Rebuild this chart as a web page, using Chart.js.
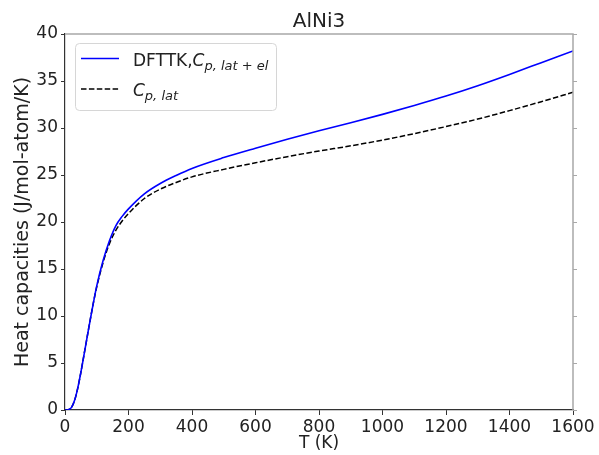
<!DOCTYPE html>
<html>
<head>
<meta charset="utf-8">
<script src="https://cdn.jsdelivr.net/npm/chart.js@4.4.0/dist/chart.umd.min.js"></script>
<style>
html,body{margin:0;padding:0;background:#fff;}
#wrap{width:599px;height:455px;}
</style>
</head>
<body>
<div id="wrap"><canvas id="cp"></canvas></div>
<script>
// temperature (K) and heat capacities (J/mol-atom/K)
var temps = [0,10,20,30,40,50,60,70,80,90,100,120,140,160,180,200,250,300,350,400,500,600,700,800,900,1000,1100,1200,1300,1400,1500,1600];
var cpLatEl = [0,0.03,0.25,1.0,2.3,4.0,5.9,7.8,9.7,11.5,13.2,15.9,18.0,19.6,20.6,21.4,23.0,24.1,24.95,25.7,26.85,27.85,28.8,29.7,30.55,31.45,32.4,33.4,34.5,35.7,36.95,38.2];
var cpLat = [0,0.03,0.25,1.0,2.3,4.0,5.9,7.8,9.7,11.5,13.1,15.7,17.7,19.1,20.1,20.9,22.5,23.5,24.2,24.8,25.6,26.3,26.95,27.55,28.1,28.72,29.4,30.15,30.95,31.85,32.8,33.8];

// legend text: prefix, math symbol, subscript
var legPrefix = ['DFTTK,', ''];
var legSymbol = ['C', 'C'];
var legSub = ['p, lat + el', 'p, lat'];

var FONT = 'DejaVu Sans';

function pts(ys) {
  return temps.map(function (t, i) { return {x: t, y: ys[i]}; });
}

// top/right spines in light grey, with small ticks on the right
var frame = {
  id: 'frame',
  afterDraw: function (chart) {
    var a = chart.chartArea, ctx = chart.ctx, y = chart.scales.y;
    ctx.save();
    ctx.strokeStyle = '#a8a8a8';
    ctx.lineWidth = 1.5;
    ctx.beginPath();
    ctx.moveTo(a.left, a.top);
    ctx.lineTo(a.right, a.top);
    ctx.lineTo(a.right, a.bottom);
    ctx.stroke();
    ctx.lineWidth = 1;
    y.ticks.forEach(function (t) {
      var py = Math.round(y.getPixelForValue(t.value)) + 0.5;
      ctx.beginPath();
      ctx.moveTo(a.right, py);
      ctx.lineTo(a.right + 4, py);
      ctx.stroke();
    });
    ctx.restore();
  }
};

// legend with subscripted math labels
var mathLegend = {
  id: 'mathLegend',
  afterDraw: function (chart) {
    var ctx = chart.ctx;
    var bx = 75, by = 43, bw = 201, bh = 67, r = 4;
    ctx.save();
    ctx.fillStyle = 'rgba(255,255,255,0.8)';
    ctx.strokeStyle = '#d6d6d6';
    ctx.lineWidth = 1;
    ctx.beginPath();
    ctx.roundRect(bx + 0.5, by + 0.5, bw, bh, r);
    ctx.fill();
    ctx.stroke();
    var rowY = [58.5, 89];
    var baseY = [66, 96];
    chart.data.datasets.forEach(function (ds, i) {
      ctx.strokeStyle = ds.borderColor;
      ctx.lineWidth = ds.borderWidth;
      ctx.setLineDash(ds.borderDash || []);
      ctx.beginPath();
      ctx.moveTo(81, rowY[i]);
      ctx.lineTo(119, rowY[i]);
      ctx.stroke();
      ctx.setLineDash([]);
      ctx.fillStyle = '#222';
      ctx.textBaseline = 'alphabetic';
      var x = 133;
      ctx.font = '17px "' + FONT + '"';
      ctx.fillText(legPrefix[i], x, baseY[i]);
      x += ctx.measureText(legPrefix[i]).width;
      ctx.font = 'italic 17px "' + FONT + '"';
      ctx.fillText(legSymbol[i], x, baseY[i]);
      x += ctx.measureText(legSymbol[i]).width;
      ctx.font = 'italic 13px "' + FONT + '"';
      ctx.fillText(legSub[i], x, baseY[i] + 4);
    });
    ctx.restore();
  }
};

var config = {
  type: 'line',
  data: {
    datasets: [{
      label: 'DFTTK,Cp,lat+el',
      data: pts(cpLatEl),
      borderColor: '#0000ff',
      borderWidth: 1.6,
      pointRadius: 0,
      cubicInterpolationMode: 'monotone',
      fill: false
    }, {
      label: 'Cp,lat',
      data: pts(cpLat),
      borderColor: '#000000',
      borderWidth: 1.5,
      borderDash: [5.5, 2.4],
      pointRadius: 0,
      cubicInterpolationMode: 'monotone',
      fill: false
    }]
  },
  options: {
    responsive: false,
    animation: false,
    layout: {padding: {left: 0, right: 26, top: 0, bottom: 0}},
    plugins: {
      legend: {display: false},
      tooltip: {enabled: false},
      title: {
        display: true,
        text: 'AlNi3',
        fullSize: false,
        color: '#222',
        font: {family: FONT, size: 20, weight: 'normal'},
        padding: {top: 10, bottom: 0}
      }
    },
    scales: {
      x: {
        type: 'linear',
        min: 0,
        max: 1600,
        ticks: {
          stepSize: 200, color: '#222', font: {family: FONT, size: 17}, padding: 2, maxRotation: 0,
          callback: function (v) { return String(v); }
        },
        grid: {drawOnChartArea: false, tickLength: 5, color: '#333'},
        border: {color: '#333', width: 1.2},
        title: {display: true, text: 'T (K)', color: '#222', font: {family: FONT, size: 17}, padding: {top: 0, bottom: 1}},
        afterFit: function (s) { s.height = 45; s.paddingLeft = 0; s.paddingRight = 0; }
      },
      y: {
        min: 0,
        max: 40,
        ticks: {stepSize: 5, color: '#222', font: {family: FONT, size: 17}, padding: 3},
        grid: {drawOnChartArea: false, tickLength: 4, color: '#333'},
        border: {color: '#333', width: 1.2},
        title: {display: true, text: 'Heat capacities (J/mol-atom/K)', color: '#222', font: {family: FONT, size: 19}, padding: {top: 12, bottom: 0}},
        afterFit: function (s) { s.width = 65; s.paddingTop = 0; s.paddingBottom = 0; }
      }
    }
  },
  plugins: [frame, mathLegend]
};

window.onload = function () {
  var c = document.getElementById('cp');
  c.width = 599;
  c.height = 455;
  window.cpChart = new Chart(c.getContext('2d'), config);
};
</script>
</body>
</html>
